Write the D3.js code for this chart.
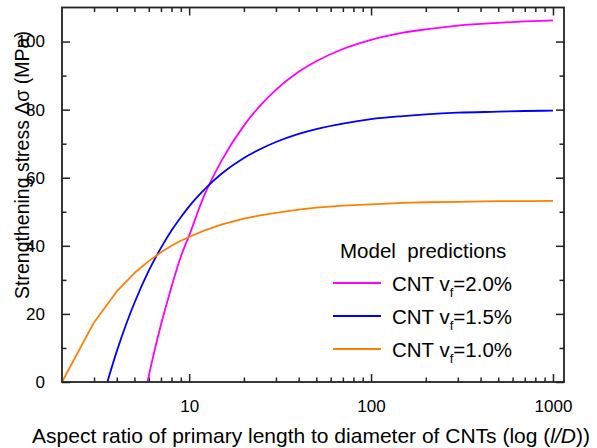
<!DOCTYPE html>
<html>
<head>
<meta charset="utf-8">
<script src="https://cdn.jsdelivr.net/npm/d3@7"></script>
<style>
  html, body { margin: 0; padding: 0; background: #fff; }
  svg { display: block; font-family: "Liberation Sans", Arial, sans-serif; }
</style>
</head>
<body>
<svg id="chart" width="597" height="448"></svg>
<script>
// Aspect ratio l/D and predicted strengthening stress (MPa) for each CNT volume fraction
const aspect10 = [2, 3, 4, 5, 6, 7, 8, 9, 10, 12, 15, 20, 25, 30, 40, 50, 70, 100, 150, 200, 300, 500, 700, 1000];
const stress10 = [0, 17.5, 26.6, 32.0, 35.5, 38.1, 40.0, 41.5, 42.6, 44.4, 46.2, 48.0, 49.0, 49.7, 50.6, 51.2, 51.8, 52.2, 52.6, 52.8, 52.9, 53.1, 53.1, 53.2];

const aspect15 = [3.55, 4, 4.5, 5, 6, 7, 8, 9, 10, 12, 15, 20, 25, 30, 40, 50, 70, 100, 150, 200, 300, 500, 700, 1000];
const stress15 = [0, 9.0, 16.9, 23.2, 32.7, 39.4, 44.5, 48.4, 51.6, 56.3, 61.1, 65.8, 68.6, 70.5, 72.9, 74.3, 75.9, 77.2, 78.1, 78.6, 79.1, 79.4, 79.6, 79.7];

const aspect20 = [5.9, 6, 6.5, 7, 8, 9, 10, 12, 15, 20, 25, 30, 40, 50, 70, 100, 150, 200, 300, 500, 700, 1000];
const stress20 = [0, 1.8, 9.9, 16.8, 28.0, 36.8, 43.0, 54.3, 64.8, 75.3, 81.6, 85.8, 91.1, 94.2, 97.8, 100.5, 102.6, 103.6, 104.7, 105.5, 105.9, 106.2];

const seriesLabels = ["2.0%", "1.5%", "1.0%"];
const seriesColors = ["#ff00ff", "#0000ff", "#ff8000"];

const xMajor = [10, 100, 1000];
const xMinor = [3, 4, 5, 6, 7, 8, 9, 20, 30, 40, 50, 60, 70, 80, 90, 200, 300, 400, 500, 600, 700, 800, 900];
const yMajor = [0, 20, 40, 60, 80, 100];
const yMinor = [10, 30, 50, 70, 90];

const svg = d3.select("#chart");
const plotLeft = 62, plotRight = 564, plotTop = 7.5, plotBottom = 382;

const x = d3.scaleLog().domain([2, 1150]).range([plotLeft, plotRight]);
const y = d3.scaleLinear().domain([0, 110]).range([plotBottom, plotTop]);

const axisColor = "#222";
const fontSize = 17;

function styleAxis(g) {
  g.select(".domain").remove();
  g.selectAll(".tick line").attr("stroke", axisColor).attr("stroke-width", 1.5);
  g.selectAll(".tick text").attr("fill", "#000").attr("font-size", fontSize)
    .attr("font-family", "Liberation Sans, Arial, sans-serif");
}

// bottom axis with labels, ticks pointing inward
svg.append("g").attr("transform", `translate(0,${plotBottom})`)
  .call(d3.axisBottom(x).tickValues(xMajor).tickFormat(d3.format("d")).tickSizeInner(-8).tickSizeOuter(0).tickPadding(18))
  .call(styleAxis);
svg.append("g").attr("transform", `translate(0,${plotBottom})`)
  .call(d3.axisBottom(x).tickValues(xMinor).tickFormat("").tickSizeInner(-4.5).tickSizeOuter(0))
  .call(styleAxis);
// top mirror ticks
svg.append("g").attr("transform", `translate(0,${plotTop})`)
  .call(d3.axisTop(x).tickValues(xMajor).tickFormat("").tickSizeInner(-8).tickSizeOuter(0))
  .call(styleAxis);
svg.append("g").attr("transform", `translate(0,${plotTop})`)
  .call(d3.axisTop(x).tickValues(xMinor).tickFormat("").tickSizeInner(-4.5).tickSizeOuter(0))
  .call(styleAxis);

// left axis with labels
svg.append("g").attr("transform", `translate(${plotLeft},0)`)
  .call(d3.axisLeft(y).tickValues(yMajor).tickFormat(d3.format("d")).tickSizeInner(-8).tickSizeOuter(0).tickPadding(17))
  .call(styleAxis);
svg.append("g").attr("transform", `translate(${plotLeft},0)`)
  .call(d3.axisLeft(y).tickValues(yMinor).tickFormat("").tickSizeInner(-4.5).tickSizeOuter(0))
  .call(styleAxis);
// right mirror ticks
svg.append("g").attr("transform", `translate(${plotRight},0)`)
  .call(d3.axisRight(y).tickValues(yMajor).tickFormat("").tickSizeInner(-8).tickSizeOuter(0))
  .call(styleAxis);
svg.append("g").attr("transform", `translate(${plotRight},0)`)
  .call(d3.axisRight(y).tickValues(yMinor).tickFormat("").tickSizeInner(-4.5).tickSizeOuter(0))
  .call(styleAxis);

// prediction curves: smooth for the two higher fractions, straight segments for 1.0 %
const series = [
  { xs: aspect20, ys: stress20, curve: d3.curveMonotoneX },
  { xs: aspect15, ys: stress15, curve: d3.curveMonotoneX },
  { xs: aspect10, ys: stress10, curve: d3.curveLinear }
];
series.forEach((s, i) => {
  const pts = s.xs.map((v, j) => [v, s.ys[j]]);
  const line = d3.line().x(d => x(d[0])).y(d => y(d[1])).curve(s.curve);
  svg.append("path").datum(pts)
    .attr("fill", "none")
    .attr("stroke", seriesColors[i])
    .attr("stroke-width", 1.8)
    .attr("stroke-linejoin", "round")
    .attr("d", line);
});

// plot frame
svg.append("rect")
  .attr("x", plotLeft).attr("y", plotTop)
  .attr("width", plotRight - plotLeft).attr("height", plotBottom - plotTop)
  .attr("fill", "none").attr("stroke", axisColor).attr("stroke-width", 1.8);

// legend
const legendFont = 20.5;
const legend = svg.append("g");
legend.append("text")
  .attr("x", 340).attr("y", 258)
  .attr("font-size", legendFont).attr("fill", "#000")
  .style("white-space", "pre")
  .text("Model  predictions");
seriesLabels.forEach((lab, i) => {
  const ly = 283 + i * 33;
  legend.append("line")
    .attr("x1", 333).attr("x2", 381).attr("y1", ly).attr("y2", ly)
    .attr("stroke", seriesColors[i]).attr("stroke-width", 1.8);
  const t = legend.append("text")
    .attr("x", 392).attr("y", ly + 7.5)
    .attr("font-size", legendFont).attr("fill", "#000");
  t.append("tspan").text("CNT v");
  t.append("tspan").attr("font-size", 13).attr("dy", 6).text("f");
  t.append("tspan").attr("dy", -6).text("=" + lab);
});

// axis titles
svg.append("text")
  .attr("transform", "translate(29,165) rotate(-90)")
  .attr("text-anchor", "middle")
  .attr("font-size", 19.5).attr("fill", "#000")
  .text("Strengthening stress \u0394\u03c3 (MPa)");

const xt = svg.append("text")
  .attr("x", 311).attr("y", 443)
  .attr("text-anchor", "middle")
  .attr("font-size", 21).attr("fill", "#000");
xt.append("tspan").text("Aspect ratio of primary length to diameter of CNTs (log (");
xt.append("tspan").attr("font-style", "italic").text("l/D");
xt.append("tspan").text("))");
</script>
</body>
</html>
